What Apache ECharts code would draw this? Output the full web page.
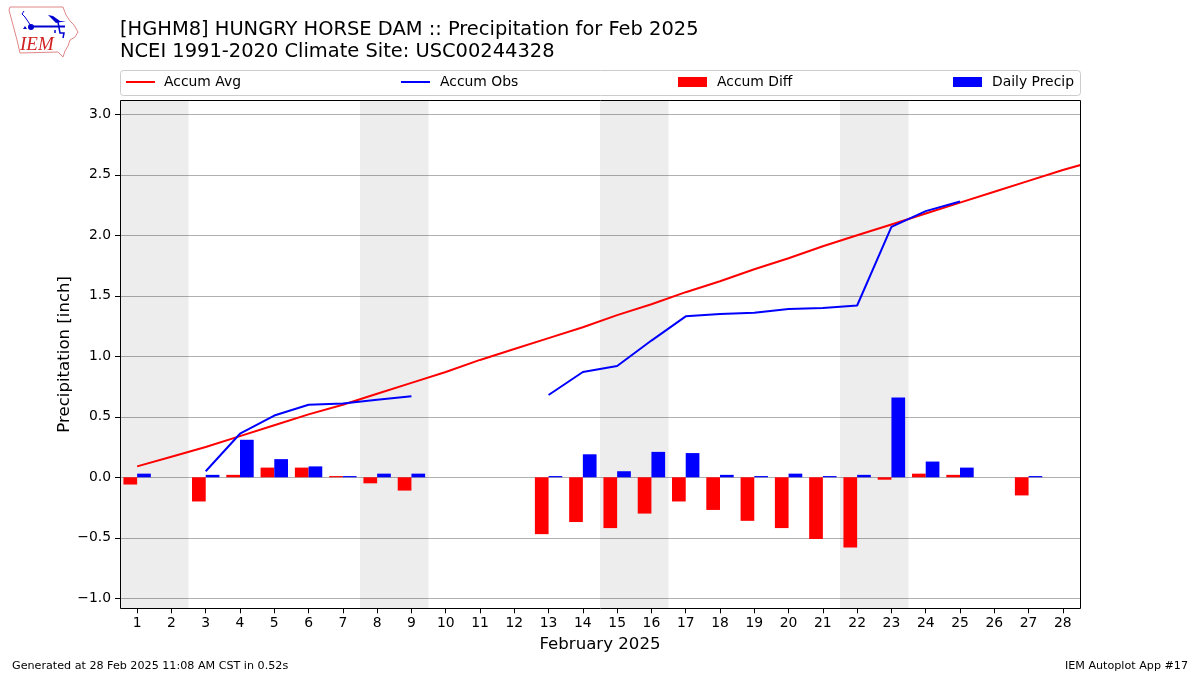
<!DOCTYPE html>
<html><head><meta charset="utf-8">
<style>html,body{margin:0;padding:0;background:#fff}#c{width:1200px;height:675px}</style>
<script src="https://cdn.jsdelivr.net/npm/echarts@6/dist/echarts.min.js"></script>
</head><body><div id="c"></div>
<script>
const days = [1,2,3,4,5,6,7,8,9,10,11,12,13,14,15,16,17,18,19,20,21,22,23,24,25,26,27,28];
const accumAvg = [0.09,0.17,0.25,0.34,0.43,0.52,0.60,0.69,0.78,0.87,0.97,1.06,1.15,1.24,1.34,1.43,1.53,1.62,1.72,1.81,1.91,2.00,2.09,2.18,2.27,2.36,2.45,2.54];
const accumAvgNext = 2.62; // first day after the month, runs off the right edge
const accumObs = [null,null,0.05,0.36,0.51,0.60,0.61,0.64,0.67,null,null,null,0.68,0.87,0.92,1.13,1.33,1.35,1.36,1.39,1.40,1.42,2.07,2.20,2.28,null,null,null];
const accumDiff = [-0.06,null,-0.20,0.02,0.08,0.08,0.01,-0.05,-0.11,null,null,null,-0.47,-0.37,-0.42,-0.30,-0.20,-0.27,-0.36,-0.42,-0.51,-0.58,-0.02,0.03,0.02,null,-0.15,null];
const dailyPrecip = [0.03,null,0.02,0.31,0.15,0.09,0.01,0.03,0.03,null,null,null,0.01,0.19,0.05,0.21,0.20,0.02,0.01,0.03,0.01,0.02,0.66,0.13,0.08,null,0.01,null];
const weekends = [[0.5,2.5],[7.5,9.5],[14.5,16.5],[21.5,23.5]];
const yTicks = [-1,-0.5,0,0.5,1,1.5,2,2.5,3];
const titleLines = ['[HGHM8] HUNGRY HORSE DAM :: Precipitation for Feb 2025','NCEI 1991-2020 Climate Site: USC00244328'];

const FONT = '"DejaVu Sans"';
const pair = arr => days.map((d,i)=>[d,arr[i]]);
const legendAt = (left,name,h,pad) => ({top:75,left,itemWidth:29,itemHeight:h,selectedMode:false,padding:0,
  data:[{name,icon:'rect'}],textStyle:{fontFamily:FONT,fontSize:13.9,color:'#000',padding:[0,0,0,pad]}});

const chart = echarts.init(document.getElementById('c'),null,{renderer:'canvas'});
chart.setOption({
  animation:false,
  backgroundColor:'#fff',
  grid:{left:120,right:120,top:100.3,height:508,show:false},
  xAxis:{type:'value',min:0.5,max:28.5,name:'February 2025',nameLocation:'middle',nameGap:28,nameMoveOverlap:false,
    nameTextStyle:{fontFamily:FONT,fontSize:16.6,color:'#000'},
    axisLine:{show:false,onZero:false},
    axisTick:{show:true,length:5,customValues:days,lineStyle:{color:'#000'}},
    axisLabel:{customValues:days,margin:8,fontFamily:FONT,fontSize:13.9,color:'#000',hideOverlap:false,showMinLabel:true,showMaxLabel:true},
    splitLine:{show:false}},
  yAxis:{type:'value',min:-1.083,max:3.116,name:'Precipitation [inch]',nameLocation:'middle',nameGap:47,nameMoveOverlap:false,
    nameTextStyle:{fontFamily:FONT,fontSize:16.6,color:'#000'},
    axisLine:{show:false,onZero:false},
    axisTick:{show:true,length:5,customValues:yTicks,lineStyle:{color:'#000'}},
    axisLabel:{customValues:yTicks,margin:9,fontFamily:FONT,fontSize:13.9,color:'#000',padding:[7,0,0,0],
      formatter:v=>(v<0?'\u2212':'')+Math.abs(v).toFixed(1)},
    splitLine:{show:true,lineStyle:{color:'#b0b0b0',width:1}}},
  legend:[
    legendAt(126,'Accum Avg',2,4),
    legendAt(401,'Accum Obs',2,5),
    legendAt(678,'Accum Diff',10,5),
    legendAt(953,'Daily Precip',10,5)
  ],
  series:[
    {name:'Accum Diff',type:'bar',z:3,barWidth:13.7,barGap:0,itemStyle:{color:'#f00'},data:pair(accumDiff),
      markArea:{silent:true,itemStyle:{color:'rgba(0,0,0,0.07)'},data:weekends.map(w=>[{xAxis:w[0]},{xAxis:w[1]}])}},
    {name:'Daily Precip',type:'bar',z:3,barWidth:13.7,barGap:0,itemStyle:{color:'#00f'},data:pair(dailyPrecip)},
    {name:'Accum Avg',type:'line',z:4,showSymbol:false,symbol:'none',clip:true,itemStyle:{color:'#f00'},lineStyle:{color:'#f00',width:2},
      data:pair(accumAvg).concat([[29,accumAvgNext]])},
    {name:'Accum Obs',type:'line',z:4,showSymbol:false,symbol:'none',connectNulls:false,itemStyle:{color:'#00f'},lineStyle:{color:'#00f',width:2},data:pair(accumObs)}
  ],
  graphic:[
    {type:'rect',z:1,shape:{x:120.5,y:70.5,width:960,height:25,r:3},style:{fill:'#fff',stroke:'#ccc',lineWidth:1}},
    {type:'rect',z:50,silent:true,shape:{x:120.5,y:100.5,width:960,height:508},style:{fill:null,stroke:'#000',lineWidth:1}},
    {type:'text',left:120,top:20,style:{text:titleLines[0],font:'19.44px '+FONT,fill:'#000'}},
    {type:'text',left:120,top:42,style:{text:titleLines[1],font:'19.44px '+FONT,fill:'#000'}},
    {type:'text',left:12,top:661,style:{text:'Generated at 28 Feb 2025 11:08 AM CST in 0.52s',font:'11.15px '+FONT,fill:'#000'}},
    {type:'text',right:12,top:661,style:{text:'IEM Autoplot App #17',font:'11.15px '+FONT,fill:'#000'}},
    // IEM logo
    {type:'polygon',shape:{points:[[10,7],[63,7],[66,15],[70,21],[74,25],[78,32],[75,37],[70,40],[68,46],[65,51],[63,57],[58,52],[20,53],[17,40],[13,25],[9,10]]},style:{fill:'#fff',stroke:'#e08888',lineWidth:1}},
    {type:'polyline',shape:{points:[[31,26.5],[65,26.5]]},style:{stroke:'#0000d0',lineWidth:2,fill:null}},
    {type:'polyline',shape:{points:[[31,26],[25,17],[22,14],[24,11]]},style:{stroke:'#0000d0',lineWidth:1,fill:null}},
    {type:'circle',shape:{cx:31,cy:27,r:3},style:{fill:'#0000d0'}},
    {type:'polygon',shape:{points:[[48,15],[53,16],[60,21],[66,21],[56,23]]},style:{fill:'#0000d0'}},
    {type:'polyline',shape:{points:[[58,22],[60,33],[64,33],[63,38]]},style:{stroke:'#0000d0',lineWidth:1.5,fill:null}},
    {type:'polyline',shape:{points:[[55,30],[55,33]]},style:{stroke:'#0000d0',lineWidth:1.5,fill:null}},
    {type:'polygon',shape:{points:[[23,29],[25,26],[27,29]]},style:{fill:'#0000d0'}},
    {type:'text',left:20,top:35,style:{text:'IEM',font:'italic 19px "Liberation Serif"',fill:'#d02020'}}
  ]
});
</script></body></html>
